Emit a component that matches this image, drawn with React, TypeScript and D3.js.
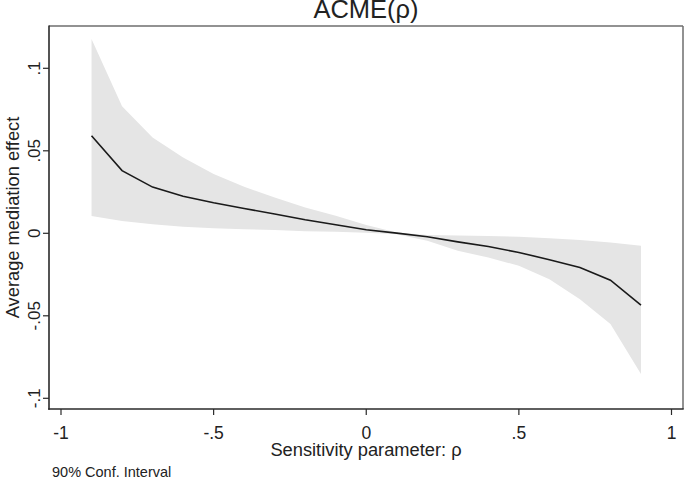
import React from "react";
import * as d3 from "d3";

const rho = [-0.9, -0.8, -0.7, -0.6, -0.5, -0.4, -0.3, -0.2, -0.1, 0, 0.1, 0.2, 0.3, 0.4, 0.5, 0.6, 0.7, 0.8, 0.9];
const acme = [0.0591, 0.038, 0.028, 0.0225, 0.0185, 0.015, 0.0117, 0.0082, 0.0052, 0.0022, 0.0001, -0.0021, -0.0052, -0.008, -0.0116, -0.016, -0.0207, -0.0284, -0.0435];
const upper = [0.1177, 0.077, 0.058, 0.046, 0.036, 0.0282, 0.0217, 0.0157, 0.0106, 0.0051, 0.0005, -0.0011, -0.0014, -0.0017, -0.0021, -0.003, -0.004, -0.0056, -0.0076];
const lower = [0.0105, 0.0075, 0.0055, 0.004, 0.003, 0.0025, 0.002, 0.0013, 0.001, 0.0003, -0.0005, -0.0045, -0.0106, -0.0147, -0.0197, -0.0278, -0.04, -0.055, -0.0853];
const xTicks = [-1, -0.5, 0, 0.5, 1];
const xTickLabels = ["-1", "-.5", "0", ".5", "1"];
const yTicks = [-0.1, -0.05, 0, 0.05, 0.1];
const yTickLabels = ["-.1", "-.05", "0", ".05", ".1"];

const W = 685;
const H = 479;
const left = 49, right = 683, top = 26, bottom = 409;
const font = "'Liberation Sans', Arial, sans-serif";
const textColor = "#222";

export default function App() {
  const x = d3.scaleLinear().domain([-1, 1]).range([61, 671.5]);
  const y = d3.scaleLinear().domain([-0.1, 0.1]).range([398.3, 68.3]);
  const idx = rho.map((_, i) => i);
  const area = d3
    .area<number>()
    .x((i) => x(rho[i]))
    .y0((i) => y(lower[i]))
    .y1((i) => y(upper[i]));
  const line = d3
    .line<number>()
    .x((i) => x(rho[i]))
    .y((i) => y(acme[i]));

  return (
    <svg
      width={W}
      height={H}
      style={{ position: "absolute", left: 0, top: 0, background: "#fff" }}
      fontFamily={font}
    >
      <rect x={0} y={0} width={W} height={H} fill="#fff" />
      <path d={area(idx) || ""} fill="#e5e5e5" stroke="none" />
      <path d={line(idx) || ""} fill="none" stroke="#1a1a1a" strokeWidth={1.6} />
      {/* frame */}
      <line x1={left} x2={right} y1={top} y2={top} stroke="#6e6e6e" strokeWidth={1.3} />
      <line x1={right} x2={right} y1={top} y2={bottom} stroke="#6e6e6e" strokeWidth={1.5} />
      <line x1={left} x2={left} y1={top - 0.6} y2={bottom + 0.8} stroke="#2a2a2a" strokeWidth={1.6} />
      <line x1={left - 0.8} x2={right + 0.7} y1={bottom} y2={bottom} stroke="#2a2a2a" strokeWidth={1.6} />
      {/* x ticks */}
      {xTicks.map((t, i) => (
        <g key={"xt" + i}>
          <line x1={x(t)} x2={x(t)} y1={bottom} y2={bottom + 6} stroke="#2a2a2a" strokeWidth={1.2} />
          <text x={x(t)} y={439} textAnchor="middle" fontSize={17.5} fill={textColor}>
            {xTickLabels[i]}
          </text>
        </g>
      ))}
      {/* y ticks */}
      {yTicks.map((t, i) => (
        <g key={"yt" + i}>
          <line x1={left - 6} x2={left} y1={y(t)} y2={y(t)} stroke="#2a2a2a" strokeWidth={1.2} />
          <text
            transform={`translate(40,${y(t)}) rotate(-90)`}
            textAnchor="middle"
            fontSize={17}
            fill={textColor}
          >
            {yTickLabels[i]}
          </text>
        </g>
      ))}
      <text x={366} y={17.5} textAnchor="middle" fontSize={25.5} fill={textColor}>
        ACME(ρ)
      </text>
      <text x={366} y={456} textAnchor="middle" fontSize={18.3} fill={textColor}>
        Sensitivity parameter: ρ
      </text>
      <text
        transform={`translate(18.5,${(top + bottom) / 2}) rotate(-90)`}
        textAnchor="middle"
        fontSize={18.3}
        fill={textColor}
      >
        Average mediation effect
      </text>
      <text x={52} y={477} fontSize={14.5} fill={textColor}>
        90% Conf. Interval
      </text>
    </svg>
  );
}
